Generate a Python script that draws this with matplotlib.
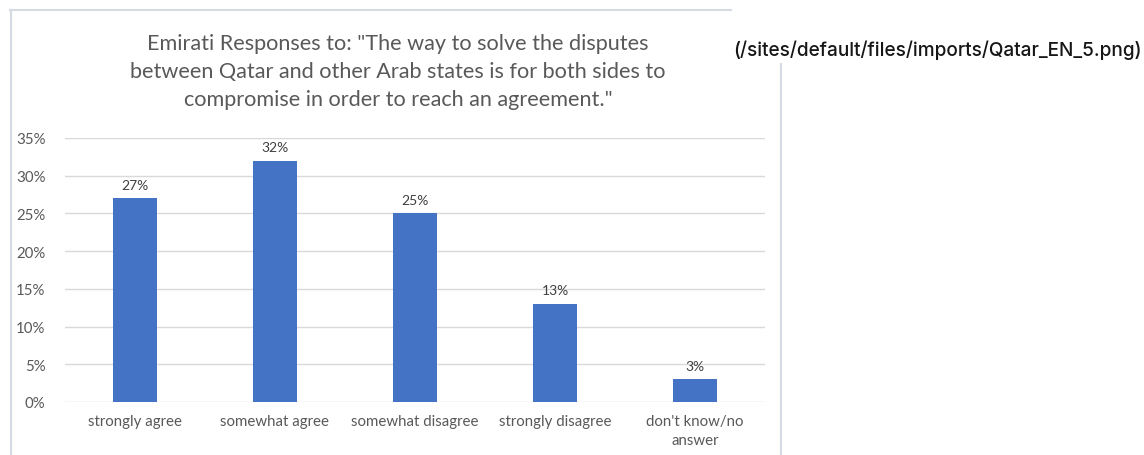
import matplotlib.pyplot as plt
from matplotlib.lines import Line2D
from matplotlib.ticker import PercentFormatter

# Survey answers and shares
respuestas = ["strongly agree", "somewhat agree", "somewhat disagree",
              "strongly disagree", "don't know/no\nanswer"]
porcentajes = [27, 32, 25, 13, 3]
marcas_y = [0, 5, 10, 15, 20, 25, 30, 35]

titulo = ('Emirati Responses to: "The way to solve the disputes\n'
          'between Qatar and other Arab states is for both sides to\n'
          'compromise in order to reach an agreement."')
ruta = "(/sites/default/files/imports/Qatar_EN_5.png)"

plt.rcParams['font.family'] = ['Lato', 'DejaVu Sans']

W, H = 1144, 456
fig = plt.figure(figsize=(W / 100, H / 100), dpi=100)
fig.patch.set_facecolor("white")

# Light frame around the chart image
borde = "#d5dbe2"
fig.add_artist(Line2D([10 / W, 731 / W], [1 - 11 / H, 1 - 11 / H], color=borde, lw=1.5))
fig.add_artist(Line2D([11 / W, 11 / W], [0, 1 - 11 / H], color=borde, lw=1.5))
fig.add_artist(Line2D([781 / W, 781 / W], [0, 1 - 65 / H], color=borde, lw=1.5))

ax = fig.add_axes([65 / W, 1 - 403 / H, 700 / W, 264 / H])
x = range(len(respuestas))
barras = ax.bar(x, porcentajes, width=0.31, color="#4472C4", zorder=3)

for xi, v in zip(x, porcentajes):
    ax.text(xi, v + 1.0, f"{v}%", ha="center", va="bottom",
            fontsize=10, color="#404040")

ax.set_xlim(-0.5, len(respuestas) - 0.5)
ax.set_ylim(0, 35)
ax.set_yticks(marcas_y)
ax.yaxis.set_major_formatter(PercentFormatter(decimals=0))
ax.set_xticks(list(x))
ax.set_xticklabels(respuestas, linespacing=1.45)
ax.grid(axis="y", color="#d9d9d9", lw=1, zorder=0)
for s in ax.spines.values():
    s.set_visible(False)
ax.tick_params(length=0, labelsize=10.8, labelcolor="#595959")
ax.tick_params(axis="x", pad=9)
ax.tick_params(axis="y", pad=14)

fig.text(398 / W, 1 - 72 / H, titulo, ha="center", va="center",
         fontsize=15.6, color="#595959", linespacing=1.5)

fig.text(733 / W, 1 - 50 / H, ruta, ha="left", va="center",
         fontsize=13.7, color="#161616", fontweight="medium",
         family=["Inter", "DejaVu Sans"])

fig.savefig("out.png", dpi=100)
